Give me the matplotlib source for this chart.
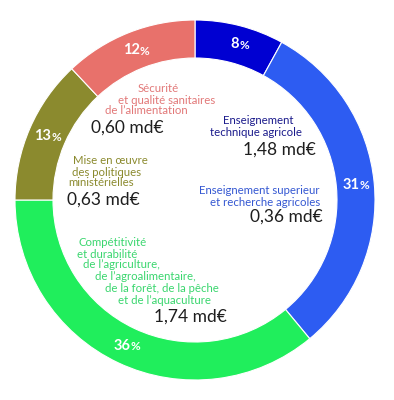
import numpy as np
import matplotlib.pyplot as plt

# Shares of the budget (clockwise from the top)
shares = [8, 31, 36, 13, 12]
seg_colors = ["#0000d2", "#2d5cf2", "#20ee5c", "#8b8a2e", "#e8716b"]

# Category labels (one entry per line) and amounts
cat_lines = [
    ["Enseignement", "technique agricole"],
    ["Enseignement superieur", "et recherche agricoles"],
    ["Compétitivité", "et durabilité", "de l’agriculture,", "de l’agroalimentaire,",
     "de la forêt, de la pêche", "et de l’aquaculture"],
    ["Mise en œuvre", "des politiques", "ministérielles"],
    ["Sécurité", "et qualité sanitaires", "de l’alimentation"],
]
amounts = ["1,48 md€", "0,36 md€", "1,74 md€", "0,63 md€", "0,60 md€"]
text_colors = ["#1b1b8c", "#3558d2", "#3ad66e", "#8b8a2e", "#e27878"]

# layout in pixel coords (x left, y from top): line starts / alignment
line_pos = [
    [(258, 120, "center"), (256, 133, "center")],
    [(320, 190, "right"), (320, 202, "right")],
    [(79, 243, "left"), (77, 254, "left"), (83, 265, "left"), (95, 276, "left"),
     (105, 288, "left"), (118, 300, "left")],
    [(73, 160, "left"), (72, 172, "left"), (68, 183, "left")],
    [(138, 89, "left"), (118, 100, "left"), (105, 111, "left")],
]
amount_pos = [(243, 150), (250, 217), (154, 317), (67, 200), (91, 128)]

plt.rcParams["font.family"] = ["Lato", "DejaVu Sans"]

W, H = 394, 400
fig = plt.figure(figsize=(W / 100, H / 100), dpi=100)
ax = fig.add_axes([0, 0, 1, 1])

cx, cy, R = 195, H - 200, 180
wedges, _ = ax.pie(shares, colors=seg_colors, startangle=90, counterclock=False,
                   center=(cx, cy), radius=R,
                   wedgeprops=dict(width=38, edgecolor="white", linewidth=0.8))
ax.set_xlim(0, W)
ax.set_ylim(0, H)
ax.set_aspect("equal")
ax.axis("off")

# percentage labels at the middle of each ring segment
for w, s in zip(wedges, shares):
    mid = np.deg2rad((w.theta1 + w.theta2) / 2)
    r = R - 19
    x, y = cx + r * np.cos(mid), cy + r * np.sin(mid)
    ax.text(x + 4, y, str(s), ha="right", va="center", color="white",
            fontsize=10.5, fontweight="bold")
    ax.text(x + 4, y - 1, "%", ha="left", va="center", color="white",
            fontsize=8.5, fontweight="bold")

for lines, poss, col in zip(cat_lines, line_pos, text_colors):
    for ln, (x, y, ha) in zip(lines, poss):
        ax.text(x, H - y, ln, ha=ha, va="center", color=col, fontsize=8.2)

for amt, (x, y) in zip(amounts, amount_pos):
    ax.text(x, H - y, amt, ha="left", va="center", color="#1e1e1e",
            fontsize=12.5)

fig.savefig("out.png", dpi=100, facecolor="white")
